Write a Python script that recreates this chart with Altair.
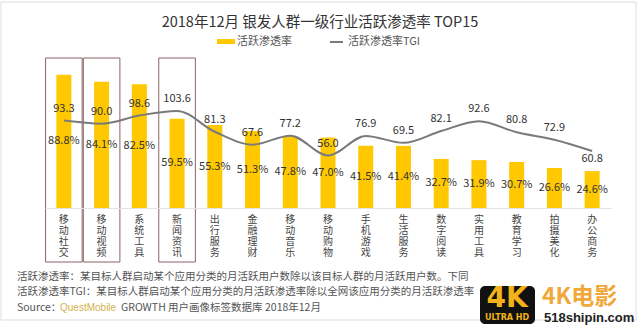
import altair as alt
import pandas as pd

categories = ["移动社交", "移动视频", "系统工具", "新闻资讯", "出行服务", "金融理财", "移动音乐",
              "移动购物", "手机游戏", "生活服务", "数字阅读", "实用工具", "教育学习", "拍摄美化", "办公商务"]
penetration = [88.8, 84.1, 82.5, 59.5, 55.3, 51.3, 47.8, 47.0, 41.5, 41.4, 32.7, 31.9, 30.7, 26.6, 24.6]
tgi = [93.3, 90.0, 98.6, 103.6, 81.3, 67.6, 77.2, 56.0, 76.9, 69.5, 82.1, 92.6, 80.8, 72.9, 60.8]
highlighted = ["移动社交", "移动视频", "新闻资讯"]
y_ticks = [0, 25, 50, 75, 100]

title_text = "2018年12月 银发人群一级行业活跃渗透率 TOP15"
legend_bar = "活跃渗透率"
legend_line = "活跃渗透率TGI"
note1 = "活跃渗透率：某目标人群启动某个应用分类的月活跃用户数除以该目标人群的月活跃用户数。下同"
note2 = "活跃渗透率TGI：某目标人群启动某个应用分类的月活跃渗透率除以全网该应用分类的月活跃渗透率"
src1 = "Source："
src2 = "QuestMobile"
src3 = "GROWTH 用户画像标签数据库 2018年12月"

FONT = "Noto Sans CJK SC"
BAR = "#FFC800"
LINE = "#7a7a7a"
OX, OY = 45, 58  # plot origin in page pixels

df = pd.DataFrame({"cat": categories, "pen": penetration, "tgi": tgi})
hl = pd.DataFrame({"cat": highlighted})

xenc = alt.X("cat:N", scale=alt.Scale(domain=categories, paddingInner=0, paddingOuter=0),
             axis=alt.Axis(title=None, labelAngle=0, labelExpr="split(datum.label, '')",
                           labelFontSize=10, labelLineHeight=11, labelColor="#444",
                           labelFont=FONT, ticks=False, domainColor="#e2e2e2",
                           labelPadding=6, labelBaseline="top"))

yscale = alt.Scale(domain=[0, 100])

boxes = alt.Chart(hl).mark_rect(fill=None, stroke="#8a6363", strokeWidth=1,
                                width=alt.RelativeBandSize(0.97)).encode(
    x=xenc, y=alt.value(0), y2=alt.value(262 - OY))

bars = alt.Chart(df).mark_bar(color=BAR, size=15).encode(
    x=xenc,
    y=alt.Y("pen:Q", scale=yscale,
            axis=alt.Axis(title=None, values=y_ticks, labelExpr="datum.value + '%'",
                          labelFontSize=11, labelColor="#444", labelFont=FONT,
                          ticks=False, domain=False, grid=False, labelPadding=10)))

pct = alt.Chart(df).transform_calculate(half="datum.pen / 2",
                                        lab="format(datum.pen, '.1f') + '%'").mark_text(
    fontSize=11, color="#333", font=FONT).encode(
    x=xenc, y=alt.Y("half:Q", scale=yscale, axis=None), text="lab:N")

left = alt.layer(boxes, bars, pct)

tscale = alt.Scale(domain=[0, 160])
line = alt.Chart(df).mark_line(interpolate="monotone", color=LINE, strokeWidth=2).encode(
    x=xenc, y=alt.Y("tgi:Q", scale=tscale, axis=None))
tlab_up = alt.Chart(df).transform_filter(f"datum.cat != '{categories[-1]}'").mark_text(
    fontSize=11, color="#333", font=FONT, dy=-12).encode(
    x=xenc, y=alt.Y("tgi:Q", scale=tscale, axis=None), text=alt.Text("tgi:Q", format=".1f"))
tlab_dn = alt.Chart(df).transform_filter(f"datum.cat == '{categories[-1]}'").mark_text(
    fontSize=11, color="#333", font=FONT, dy=8).encode(
    x=xenc, y=alt.Y("tgi:Q", scale=tscale, axis=None), text=alt.Text("tgi:Q", format=".1f"))
right = alt.layer(line, tlab_up, tlab_dn)

main = alt.layer(left, right).resolve_scale(y="independent")


def txt(s, x, y, size, color, align="left", weight="normal", font=FONT):
    return alt.Chart(alt.Data(values=[{"t": s}])).mark_text(
        fontSize=size, color=color, align=align, baseline="middle", fontWeight=weight, font=font
    ).encode(text="t:N", x=alt.value(x - OX), y=alt.value(y - OY))


def box(x1, y1, x2, y2, **kw):
    return alt.Chart(alt.Data(values=[{"t": 0}])).mark_rect(**kw).encode(
        x=alt.value(x1 - OX), x2=alt.value(x2 - OX), y=alt.value(y1 - OY), y2=alt.value(y2 - OY))


frame = box(1, 2, 636, 320, fill=None, stroke="#dddddd", strokeWidth=1)

annotations = [
    frame,
    txt(title_text, 320, 23, 14.5, "#333", align="center"),
    box(217, 39, 235, 44, fill=BAR),
    txt(legend_bar, 237, 42, 11, "#555"),
    alt.Chart(alt.Data(values=[{"t": 0}])).mark_rule(color=LINE, strokeWidth=2).encode(
        x=alt.value(330 - OX), x2=alt.value(343 - OX), y=alt.value(42 - OY)),
    txt(legend_line, 348, 42, 11, "#555"),
    txt(note1, 17, 277, 10.5, "#555"),
    txt(note2, 17, 292, 10.5, "#555"),
    txt(src1, 17, 308, 10.5, "#555"),
    txt(src2, 60, 308, 10, "#D4B24C", font="Liberation Sans"),
    txt(src3, 121, 308, 10.5, "#555"),
    # watermark
    box(480, 286, 535, 324, fill="#111111", cornerRadius=5),
    txt("4K", 507, 299, 28, "#F2B318", align="center", weight="bold", font="DejaVu Sans"),
    txt("ULTRA HD", 507, 318, 8, "#F2B318", align="center", weight="bold", font="DejaVu Sans"),
    txt("4K电影", 542, 297, 23, "#F0A838", weight="bold"),
    txt("518shipin.com", 544, 318, 13, "#222", weight="bold", font="Liberation Sans"),
]

chart = alt.layer(main, *annotations).properties(
    width=566, height=150,
    padding={"left": OX, "top": OY, "right": 640 - OX - 566, "bottom": 329 - OY - 150},
    autosize=alt.AutoSizeParams(type="none"),
    background="white",
).configure_view(stroke=None)

chart.save("out.html", embed_options={"renderer": "svg", "actions": False})
